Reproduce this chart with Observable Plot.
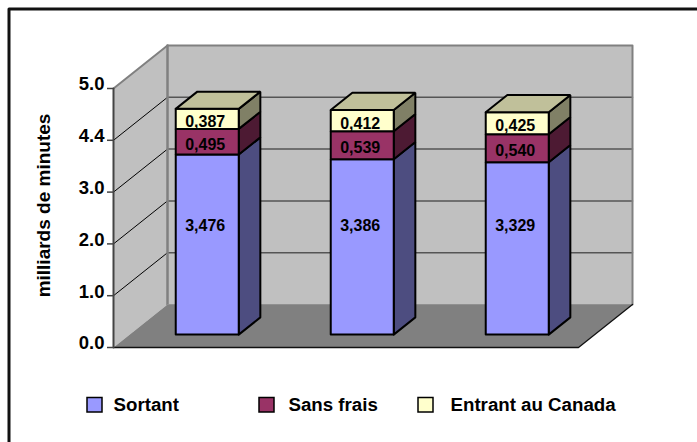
<!DOCTYPE html>
<html>
<head>
<meta charset="utf-8">
<style>
html,body{margin:0;padding:0;background:#fff;width:697px;height:442px;overflow:hidden}
svg{display:block}
</style>
<script src="https://cdn.jsdelivr.net/npm/d3@7"></script>
<script src="https://cdn.jsdelivr.net/npm/@observablehq/plot@0.6"></script>
</head>
<body>
<script>
// ---- data ----
const categories = [0, 1, 2];
const sortant = [3.476, 3.386, 3.329];
const sansFrais = [0.495, 0.539, 0.540];
const entrant = [0.387, 0.412, 0.425];
const valueLabels = {
  sortant: ["3,476", "3,386", "3,329"],
  sansFrais: ["0,495", "0,539", "0,540"],
  entrant: ["0,387", "0,412", "0,425"]
};
const tickValues = [0, 1, 2, 3, 4, 5];
const tickLabels = ["0.0", "1.0", "2.0", "3.0", "4.4", "5.0"];
const seriesNames = ["Sortant", "Sans frais", "Entrant au Canada"];
const axisTitle = "milliards de minutes";

// ---- styling and layout ----
const W = 697, H = 442;
const ml = 113, mr = 119, mt = 88, mb = 95;
const unitX = (W - ml - mr) / 3, unitY = (H - mt - mb) / 5;
const depthX = 54, depthY = 43;
const font = "'Liberation Sans', Arial, sans-serif";
const faces = [
  {values: sortant, labels: valueLabels.sortant, front: "#9999FF", side: "#4D4D80"},
  {values: sansFrais, labels: valueLabels.sansFrais, front: "#993366", side: "#4D1A33"},
  {values: entrant, labels: valueLabels.entrant, front: "#FFFFCC", side: "#808066", top: "#C0C09A"}
];

// oblique projection: category position, value, depth (0 front .. 1 back)
const P = (c, v, d) => ({x: c + d * depthX / unitX, y: v + d * depthY / unitY});
const pxX = p => (p - ml) / unitX;
const pxY = p => (H - mb - p) / unitY;
const quad = pts => [...pts, pts[0]];

const barLeft = 0.297, barW = 63 / unitX, bd0 = 0.3, bd1 = 0.7;

const poly = (pts, fill, stroke, strokeWidth) =>
  Plot.line(quad(pts), {x: "x", y: "y", fill, stroke, strokeWidth, strokeLinejoin: "miter", curve: "linear"});

// walls and floor
const marks = [
  poly([P(0,0,0), P(0,5,0), P(0,5,1), P(0,0,1)], "#C0C0C0", "none", 0),
  poly([P(0,0,1), P(0,5,1), P(3,5,1), P(3,0,1)], "#C0C0C0", "none", 0),
  poly([P(0,0,0), P(3,0,0), P(3,0,1), P(0,0,1)], "#808080", "none", 0)
];
// gridlines
for (const t of tickValues.slice(1, 5)) {
  marks.push(Plot.line([P(0,t,0), P(0,t,1)], {x:"x", y:"y", stroke:"#000", strokeWidth:1}));
  marks.push(Plot.line([P(0,t,1), P(3,t,1)], {x:"x", y:"y", stroke:"#555", strokeWidth:1.5}));
}
// wall outlines
marks.push(Plot.line([P(0,5,0), P(0,5,1), P(3,5,1), P(3,0,1)], {x:"x", y:"y", stroke:"#808080", strokeWidth:2}));
marks.push(Plot.line([P(0,5,1), P(0,0,1)], {x:"x", y:"y", stroke:"#808080", strokeWidth:2.5}));
marks.push(Plot.line([P(0,0,1), P(3,0,1)], {x:"x", y:"y", stroke:"#909090", strokeWidth:1}));
// floor edges
marks.push(Plot.line([P(0,0,0), P(3,0,0), P(3,0,1)], {x:"x", y:"y", stroke:"#111", strokeWidth:1.3}));
marks.push(Plot.line([P(0,5,0), P(0,0,0)], {x:"x", y:"y", stroke:"#444", strokeWidth:2}));

// stacked bars
const firstLabelY = 225; // the lowest label sits at one common height in the reference
categories.forEach(i => {
  const c0 = i + barLeft, c1 = c0 + barW;
  let base = 0;
  faces.forEach((f, k) => {
    const top = base + f.values[i];
    marks.push(poly([P(c1,base,bd0), P(c1,base,bd1), P(c1,top,bd1), P(c1,top,bd0)], f.side, "#000", 2));
    marks.push(poly([P(c0,base,bd0), P(c1,base,bd0), P(c1,top,bd0), P(c0,top,bd0)], f.front, "#000", 2));
    if (f.top) marks.push(poly([P(c0,top,bd0), P(c1,top,bd0), P(c1,top,bd1), P(c0,top,bd1)], f.top, "#000", 2));
    const mid = P((c0 + c1) / 2, base + f.values[i] / 2, bd0);
    marks.push(Plot.text([f.labels[i]], {x: () => mid.x, y: () => k === 0 ? pxY(firstLabelY) : mid.y,
      dx: -2, dy: k === 0 ? 0 : 3, text: d => d,
      fontSize: 16, fontWeight: "bold", fill: "#000", stroke: "none", fontFamily: font}));
    base = top;
  });
});

// axis
marks.push(Plot.axisY(tickValues, {anchor: "left", label: null, tickSize: 6, stroke: "#444", strokeWidth: 1.5, text: null, fill: "none"}));
marks.push(Plot.axisY(tickValues, {anchor: "left", label: null, tickSize: 0, tickPadding: 9, dy: -4,
  tickFormat: t => tickLabels[tickValues.indexOf(t)], fontSize: 18.5, fontWeight: "bold", fill: "#000", fontFamily: font}));
marks.push(Plot.text([axisTitle], {x: () => pxX(43), y: () => pxY(205), text: d => d, rotate: -90,
  fontSize: 19, fontWeight: "bold", fill: "#000", fontFamily: font}));

// legend
const legendX = [87, 259, 418], legendTextX = [113, 288, 450];
seriesNames.forEach((name, k) => {
  marks.push(Plot.rect([name], {x1: () => pxX(legendX[k]), x2: () => pxX(legendX[k] + 15),
    y1: () => pxY(397.5), y2: () => pxY(412), fill: faces[k].front, stroke: "#000", strokeWidth: 1.5}));
  marks.push(Plot.text([name], {x: () => pxX(legendTextX[k]), y: () => pxY(404.5), text: d => d, textAnchor: "start",
    fontSize: 18.7, fontWeight: "bold", fill: "#000", fontFamily: font}));
});

// outer frame: only the top and left edges fall inside the picture
marks.unshift(Plot.line([{x:pxX(8.5),y:pxY(H)},{x:pxX(8.5),y:pxY(8.5)},{x:pxX(W),y:pxY(8.5)}],
  {x:"x", y:"y", stroke:"#111", strokeWidth:3}));

const chart = Plot.plot({
  width: W, height: H,
  marginLeft: ml, marginRight: mr, marginTop: mt, marginBottom: mb,
  x: {domain: [0, 3], axis: null},
  y: {domain: [0, 5], axis: null},
  style: {background: "#fff", overflow: "visible", fontFamily: font},
  marks
});
document.body.appendChild(chart);
</script>
</body>
</html>
